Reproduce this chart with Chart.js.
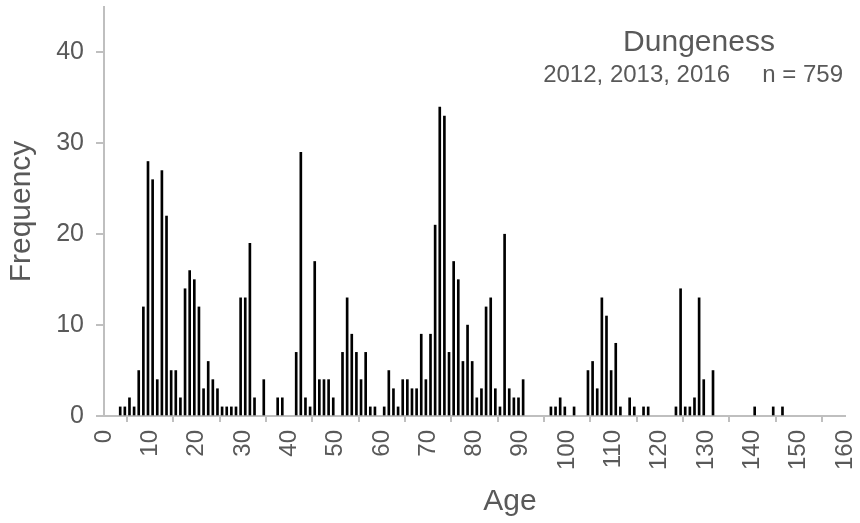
<!DOCTYPE html>
<html>
<head>
<meta charset="utf-8">
<title>Dungeness age frequency</title>
<script src="https://cdn.jsdelivr.net/npm/chart.js@4"></script>
<style>
  html, body { margin: 0; padding: 0; background: #fff; }
  #wrap { width: 860px; height: 523px; }
</style>
</head>
<body>
<div id="wrap"><canvas id="myChart"></canvas></div>
<script>
// age (years) and how many fish of that age
const ages = [
    3, 4, 5, 6, 7, 8, 9, 10, 11, 12, 13, 14, 15, 16, 17, 18, 19, 20, 21, 22,
    23, 24, 25, 26, 27, 28, 29, 30, 31, 32, 34,
    37, 38, 41, 42, 43, 44, 45, 46, 47, 48, 49, 51, 52, 53, 54, 55, 56, 57, 58,
    60, 61, 62, 63, 64, 65, 66, 67, 68, 69, 70, 71, 72, 73, 74, 75, 76, 77, 78, 79,
    80, 81, 82, 83, 84, 85, 86, 87, 88, 89, 90,
    96, 97, 98, 99, 101,
    104, 105, 106, 107, 108, 109, 110, 111, 113, 114, 116, 117,
    123, 124, 125, 126, 127, 128, 129, 131,
    140, 144, 146
];
const counts = [
    1, 1, 2, 1, 5, 12, 28, 26, 4, 27, 22, 5, 5, 2, 14, 16, 15, 12, 3, 6,
    4, 3, 1, 1, 1, 1, 13, 13, 19, 2, 4,
    2, 2, 7, 29, 2, 1, 17, 4, 4, 4, 2, 7, 13, 9, 7, 4, 7, 1, 1,
    1, 5, 3, 1, 4, 4, 3, 3, 9, 4, 9, 21, 34, 33, 7, 17, 15, 6, 10, 6,
    2, 3, 12, 13, 3, 1, 20, 3, 2, 2, 4,
    1, 1, 2, 1, 1,
    5, 6, 3, 13, 11, 5, 8, 1, 2, 1, 1, 1,
    1, 14, 1, 1, 2, 13, 4, 5,
    1, 1, 1
];
const xTicks = [0, 10, 20, 30, 40, 50, 60, 70, 80, 90, 100, 110, 120, 130, 140, 150, 160];
const yTicks = [0, 10, 20, 30, 40];

const siteName = 'Dungeness';
const years = '2012, 2013, 2016';
const sampleSize = 'n = 759';
const xTitle = 'Age';
const yTitle = 'Frequency';

const FONT = '"Liberation Sans", Arial, sans-serif';
const GREY_TEXT = '#595959';
const GREY_LINE = '#bfbfbf';

// each bar sits in the middle of its one-year bin
const points = [];
for (let i = 0; i < ages.length; i++) {
    points.push({ x: ages[i] + 0.5, y: counts[i] });
}

// site name, years and sample size in the top right, plus the age caption
const headerText = {
    id: 'headerText',
    afterDraw(chart) {
        const c = chart.ctx;
        c.save();
        c.fillStyle = GREY_TEXT;
        c.textBaseline = 'middle';
        c.textAlign = 'center';
        c.font = '30px ' + FONT;
        c.fillText(siteName, 699, 43);
        c.fillText(xTitle, 510, 502);
        c.font = '24px ' + FONT;
        c.textAlign = 'right';
        c.fillText(years, 730, 75);
        c.fillText(sampleSize, 843, 75);
        c.restore();
    }
};

var ctx = document.getElementById('myChart').getContext('2d');

var myChart = new Chart(ctx, { // eslint-disable-line
    type: 'bar',
    data: {
        datasets: [{
            label: yTitle,
            data: points,
            backgroundColor: '#000',
            borderWidth: 0,
            barThickness: 2
        }]
    },
    options: {
        responsive: true,
        maintainAspectRatio: false,
        animation: false,
        layout: {
            padding: { top: 7, right: 15, left: 0, bottom: 0 }
        },
        plugins: {
            legend: { display: false },
            tooltip: { enabled: false }
        },
        scales: {
            x: {
                type: 'linear',
                min: 0,
                max: 160,
                offset: false,
                afterBuildTicks: (scale) => {
                    scale.ticks = xTicks.map(v => ({ value: v }));
                },
                afterFit: (scale) => {
                    scale.height = 107;
                    scale.paddingLeft = 0;
                    scale.paddingRight = 0;
                },
                ticks: {
                    color: GREY_TEXT,
                    font: { family: FONT, size: 24 },
                    minRotation: 90,
                    maxRotation: 90,
                    padding: 8
                },
                grid: {
                    drawOnChartArea: false,
                    color: GREY_LINE,
                    lineWidth: 2,
                    tickLength: 6
                },
                border: { color: GREY_LINE, width: 2 }
            },
            y: {
                min: 0,
                max: 45,
                afterBuildTicks: (scale) => {
                    scale.ticks = yTicks.map(v => ({ value: v }));
                },
                afterFit: (scale) => {
                    scale.width = 104;
                    scale.paddingTop = 0;
                    scale.paddingBottom = 0;
                },
                ticks: {
                    color: GREY_TEXT,
                    font: { family: FONT, size: 25 },
                    padding: 12
                },
                grid: {
                    drawOnChartArea: false,
                    color: GREY_LINE,
                    lineWidth: 2,
                    tickLength: 8
                },
                border: { color: GREY_LINE, width: 2 },
                title: {
                    display: true,
                    text: yTitle,
                    color: GREY_TEXT,
                    font: { family: FONT, size: 30 },
                    padding: { top: 4, bottom: 0 }
                }
            }
        }
    },
    plugins: [headerText]
});
</script>
</body>
</html>
